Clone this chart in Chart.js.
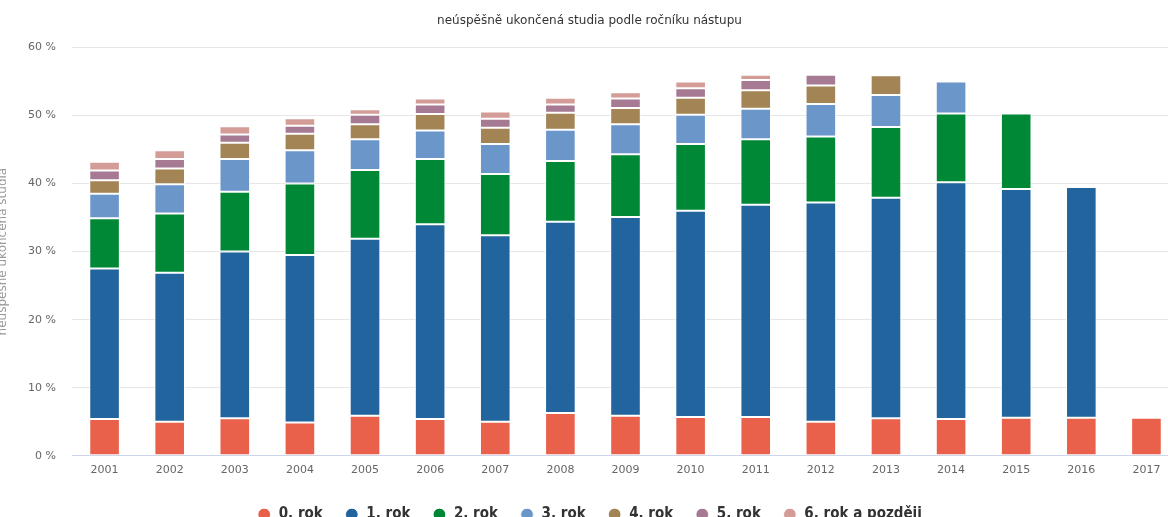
<!DOCTYPE html>
<html>
<head>
<meta charset="utf-8">
<script src="https://cdn.jsdelivr.net/npm/chart.js@4.4.1/dist/chart.umd.min.js"></script>
<style>
  html, body { margin: 0; padding: 0; background: #fff; overflow: hidden; }
  #wrap { position: relative; width: 1179px; height: 532px; }
</style>
</head>
<body>
<div id="wrap"><canvas id="studiaChart"></canvas></div>
<script>
const years = ['2001', '2002', '2003', '2004', '2005', '2006', '2007', '2008', '2009',
    '2010', '2011', '2012', '2013', '2014', '2015', '2016', '2017'];

const rok0 = [5.4, 5.0, 5.5, 4.9, 5.9, 5.4, 5.0, 6.3, 5.9, 5.7, 5.7, 5.0, 5.5, 5.4, 5.6, 5.6, 5.6];
const rok1 = [22.1, 21.9, 24.5, 24.6, 26.0, 28.6, 27.4, 28.1, 29.2, 30.3, 31.2, 32.2, 32.4, 34.8, 33.6, 33.9, null];
const rok2 = [7.4, 8.7, 8.8, 10.5, 10.1, 9.6, 9.0, 8.9, 9.2, 9.8, 9.6, 9.7, 10.4, 10.1, 11.1, null, null];
const rok3 = [3.6, 4.3, 4.8, 4.9, 4.5, 4.2, 4.4, 4.6, 4.4, 4.3, 4.5, 4.8, 4.7, 4.7, null, null, null];
const rok4 = [2.0, 2.3, 2.4, 2.4, 2.2, 2.4, 2.4, 2.5, 2.4, 2.5, 2.7, 2.7, 2.9, null, null, null, null];
const rok5 = [1.4, 1.4, 1.2, 1.2, 1.4, 1.4, 1.3, 1.2, 1.4, 1.4, 1.5, 1.6, null, null, null, null, null];
const rok6 = [1.3, 1.3, 1.2, 1.1, 0.8, 0.9, 1.1, 1.0, 0.9, 1.0, 0.8, null, null, null, null, null, null];

const seriesNames = ['0. rok', '1. rok', '2. rok', '3. rok', '4. rok', '5. rok', '6. rok a později'];
const seriesColors = ['#e9604b', '#22649d', '#008837', '#6b96ca', '#a28455', '#a77a94', '#d39c96'];
const yTicks = [0, 10, 20, 30, 40, 50, 60];

const seriesData = [rok0, rok1, rok2, rok3, rok4, rok5, rok6];

const chart = new Chart(document.getElementById('studiaChart'), {
    type: 'bar',
    data: {
        labels: years,
        datasets: seriesData.map((vals, i) => ({
            label: seriesNames[i],
            data: vals,
            backgroundColor: seriesColors[i],
            borderColor: '#ffffff',
            borderWidth: 1,
            borderSkipped: false,
            barPercentage: 0.47,
            categoryPercentage: 1
        }))
    },
    options: {
        responsive: true,
        maintainAspectRatio: false,
        animation: false,
        layout: { padding: 0 },
        plugins: {
            title: {
                display: true,
                text: 'neúspěšně ukončená studia podle ročníku nástupu',
                color: '#333333',
                font: { family: 'DejaVu Sans', size: 12, weight: 'normal' },
                padding: { top: 14, bottom: 19 }
            },
            legend: {
                position: 'bottom',
                labels: {
                    usePointStyle: true,
                    pointStyle: 'circle',
                    boxWidth: 14,
                    boxHeight: 9,
                    padding: 22,
                    color: '#333333',
                    font: { family: 'DejaVu Sans Condensed', size: 15, weight: 'bold' }
                }
            },
            tooltip: { enabled: false }
        },
        scales: {
            x: {
                stacked: true,
                grid: { display: false, drawTicks: false },
                border: { display: true, color: '#ccd6eb', width: 1 },
                ticks: {
                    color: '#666666',
                    padding: 8,
                    maxRotation: 0,
                    font: { family: 'DejaVu Sans', size: 11 }
                }
            },
            y: {
                stacked: true,
                min: 0,
                max: 60,
                afterFit: scale => { scale.width = 72; },
                afterBuildTicks: scale => { scale.ticks = yTicks.map(v => ({ value: v })); },
                grid: {
                    drawTicks: false,
                    color: ctx => ctx.tick && ctx.tick.value === 0 ? 'rgba(0,0,0,0)' : '#e6e6e6'
                },
                border: { display: false },
                ticks: {
                    color: '#666666',
                    padding: 16,
                    font: { family: 'DejaVu Sans', size: 11 },
                    callback: v => v + ' %'
                },
                title: {
                    display: true,
                    text: 'neúspěšně ukončená studia',
                    color: '#999999',
                    font: { family: 'DejaVu Sans', size: 12 },
                    padding: { top: -4, bottom: 0 }
                }
            }
        }
    }
});
</script>
</body>
</html>
